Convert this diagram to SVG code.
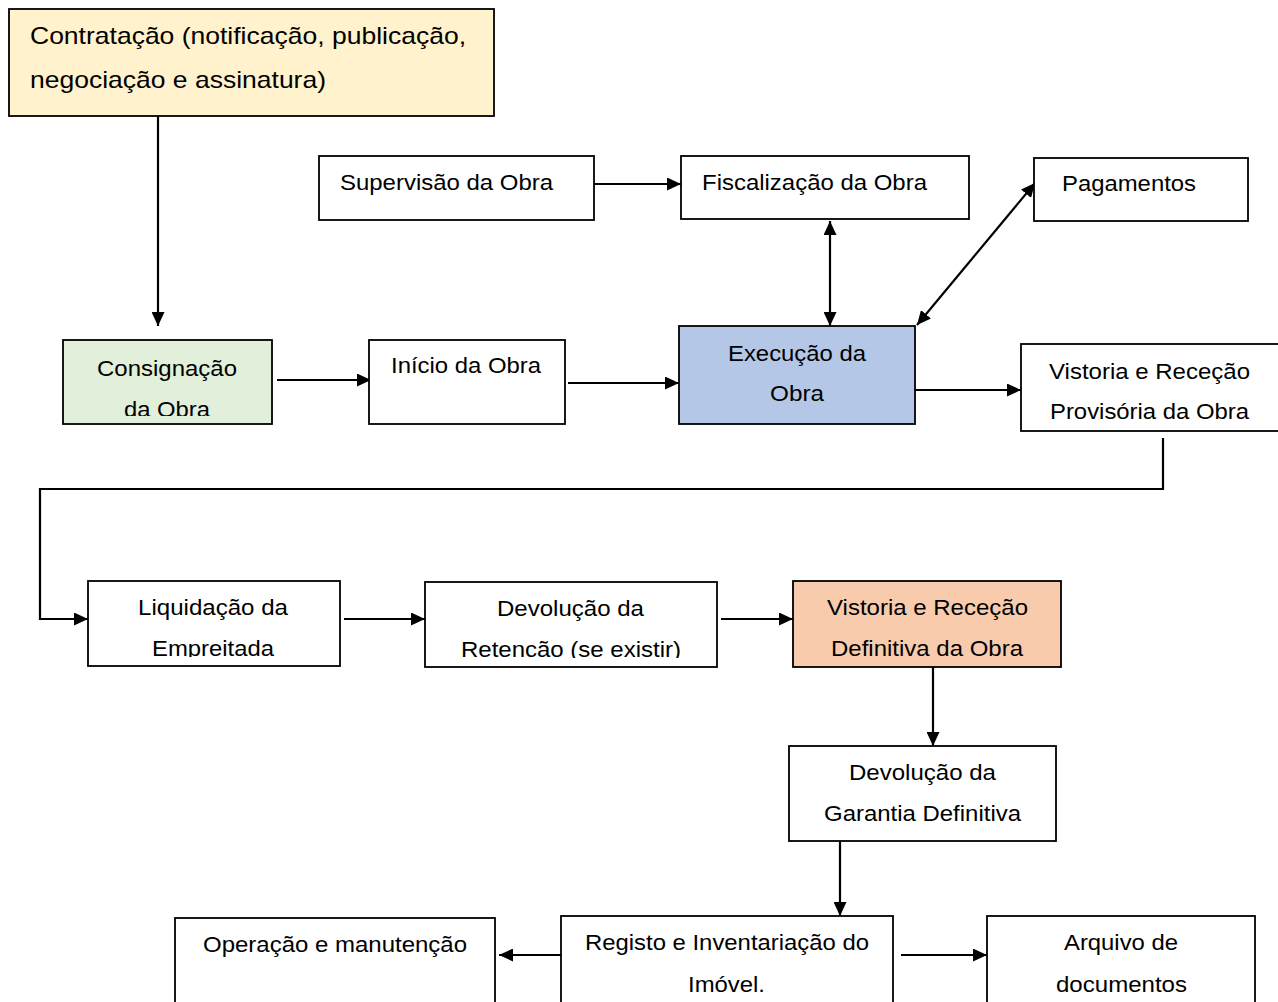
<svg xmlns="http://www.w3.org/2000/svg" width="1278" height="1002" viewBox="0 0 1278 1002">
  <style>
    .box { fill: #ffffff; stroke: #000000; stroke-width: 1.8; }
    .t { font-family: "Liberation Sans", Arial, sans-serif; font-size: 22px; fill: #000000; }
    .big { font-size: 24px; }
    .c { fill: none; stroke: #000000; stroke-width: 2.2; }
  </style>
  <defs>
    <marker id="arrow" viewBox="0 0 14 13" refX="14" refY="6.5" markerWidth="14" markerHeight="13" markerUnits="userSpaceOnUse" orient="auto-start-reverse">
      <path d="M0,0 L14,6.5 L0,13 Z" fill="#000000"/>
    </marker>
    <!-- text frames that cut off their last line -->
    <clipPath id="clipConsig"><rect x="63" y="340" width="209" height="76"/></clipPath>
    <clipPath id="clipLiq"><rect x="88" y="581" width="252" height="76"/></clipPath>
    <clipPath id="clipRet"><rect x="425" y="582" width="292" height="76"/></clipPath>
  </defs>

  <rect x="0" y="0" width="1278" height="1002" fill="#ffffff"/>

  <!-- connectors -->
  <g id="connectors">
    <line class="c" x1="158" y1="116" x2="158" y2="326" marker-end="url(#arrow)"/>
    <line class="c" x1="594" y1="184" x2="681" y2="184" marker-end="url(#arrow)"/>
    <line class="c" x1="830" y1="221" x2="830" y2="326" marker-start="url(#arrow)" marker-end="url(#arrow)"/>
    <line class="c" x1="1035" y1="183" x2="917" y2="325" marker-start="url(#arrow)" marker-end="url(#arrow)"/>
    <line class="c" x1="277" y1="380" x2="371" y2="380" marker-end="url(#arrow)"/>
    <line class="c" x1="568" y1="383" x2="679" y2="383" marker-end="url(#arrow)"/>
    <line class="c" x1="915" y1="390" x2="1021" y2="390" marker-end="url(#arrow)"/>
    <polyline class="c" points="1163,438 1163,489 40,489 40,619 88,619" marker-end="url(#arrow)"/>
    <line class="c" x1="344" y1="619" x2="425" y2="619" marker-end="url(#arrow)"/>
    <line class="c" x1="721" y1="619" x2="793" y2="619" marker-end="url(#arrow)"/>
    <line class="c" x1="933" y1="667" x2="933" y2="746" marker-end="url(#arrow)"/>
    <line class="c" x1="840" y1="842" x2="840" y2="916" marker-end="url(#arrow)"/>
    <line class="c" x1="567" y1="955" x2="499" y2="955" marker-end="url(#arrow)"/>
    <line class="c" x1="901" y1="955" x2="987" y2="955" marker-end="url(#arrow)"/>
  </g>

  <!-- nodes -->
  <g id="contratacao">
    <rect class="box" x="9" y="9" width="485" height="107" style="fill:#fff2cc"/>
    <text class="t big" x="30" y="44" textLength="436" lengthAdjust="spacingAndGlyphs">Contratação (notificação, publicação,</text>
    <text class="t big" x="30" y="88" textLength="296" lengthAdjust="spacingAndGlyphs">negociação e assinatura)</text>
  </g>

  <g id="supervisao">
    <rect class="box" x="319" y="156" width="275" height="64"/>
    <text class="t" x="340" y="190" textLength="213" lengthAdjust="spacingAndGlyphs">Supervisão da Obra</text>
  </g>

  <g id="fiscalizacao">
    <rect class="box" x="681" y="156" width="288" height="63"/>
    <text class="t" x="702" y="190" textLength="225" lengthAdjust="spacingAndGlyphs">Fiscalização da Obra</text>
  </g>

  <g id="pagamentos">
    <rect class="box" x="1034" y="158" width="214" height="63"/>
    <text class="t" x="1062" y="191" textLength="134" lengthAdjust="spacingAndGlyphs">Pagamentos</text>
  </g>

  <g id="consignacao">
    <rect class="box" x="63" y="340" width="209" height="84" style="fill:#e2efda"/>
    <g clip-path="url(#clipConsig)">
      <text class="t" x="97" y="376" textLength="140" lengthAdjust="spacingAndGlyphs">Consignação</text>
      <text class="t" x="124" y="417" textLength="86" lengthAdjust="spacingAndGlyphs">da Obra</text>
    </g>
  </g>

  <g id="inicio">
    <rect class="box" x="369" y="340" width="196" height="84"/>
    <text class="t" x="391" y="373" textLength="150" lengthAdjust="spacingAndGlyphs">Início da Obra</text>
  </g>

  <g id="execucao">
    <rect class="box" x="679" y="326" width="236" height="98" style="fill:#b4c7e7"/>
    <text class="t" x="728" y="361" textLength="138" lengthAdjust="spacingAndGlyphs">Execução da</text>
    <text class="t" x="770" y="401" textLength="54" lengthAdjust="spacingAndGlyphs">Obra</text>
  </g>

  <g id="vistoria-provisoria">
    <rect class="box" x="1021" y="344" width="270" height="87"/>
    <text class="t" x="1049" y="379" textLength="201" lengthAdjust="spacingAndGlyphs">Vistoria e Receção</text>
    <text class="t" x="1050" y="419" textLength="199" lengthAdjust="spacingAndGlyphs">Provisória da Obra</text>
  </g>

  <g id="liquidacao">
    <rect class="box" x="88" y="581" width="252" height="85"/>
    <g clip-path="url(#clipLiq)">
      <text class="t" x="138" y="615" textLength="150" lengthAdjust="spacingAndGlyphs">Liquidação da</text>
      <text class="t" x="152" y="656" textLength="122" lengthAdjust="spacingAndGlyphs">Empreitada</text>
    </g>
  </g>

  <g id="devolucao-retencao">
    <rect class="box" x="425" y="582" width="292" height="85"/>
    <g clip-path="url(#clipRet)">
      <text class="t" x="497" y="616" textLength="147" lengthAdjust="spacingAndGlyphs">Devolução da</text>
      <text class="t" x="461" y="657" textLength="220" lengthAdjust="spacingAndGlyphs">Retencão (se existir)</text>
    </g>
  </g>

  <g id="vistoria-definitiva">
    <rect class="box" x="793" y="581" width="268" height="86" style="fill:#f8cbad"/>
    <text class="t" x="827" y="615" textLength="201" lengthAdjust="spacingAndGlyphs">Vistoria e Receção</text>
    <text class="t" x="831" y="656" textLength="192" lengthAdjust="spacingAndGlyphs">Definitiva da Obra</text>
  </g>

  <g id="devolucao-garantia">
    <rect class="box" x="789" y="746" width="267" height="95"/>
    <text class="t" x="849" y="780" textLength="147" lengthAdjust="spacingAndGlyphs">Devolução da</text>
    <text class="t" x="824" y="821" textLength="197" lengthAdjust="spacingAndGlyphs">Garantia Definitiva</text>
  </g>

  <g id="operacao">
    <rect class="box" x="175" y="918" width="320" height="100"/>
    <text class="t" x="203" y="952" textLength="264" lengthAdjust="spacingAndGlyphs">Operação e manutenção</text>
  </g>

  <g id="registo">
    <rect class="box" x="561" y="916" width="332" height="100"/>
    <text class="t" x="585" y="950" textLength="284" lengthAdjust="spacingAndGlyphs">Registo e Inventariação do</text>
    <text class="t" x="688" y="992" textLength="77" lengthAdjust="spacingAndGlyphs">Imóvel.</text>
  </g>

  <g id="arquivo">
    <rect class="box" x="987" y="916" width="268" height="100"/>
    <text class="t" x="1064" y="950" textLength="114" lengthAdjust="spacingAndGlyphs">Arquivo de</text>
    <text class="t" x="1056" y="992" textLength="131" lengthAdjust="spacingAndGlyphs">documentos</text>
  </g>
</svg>
